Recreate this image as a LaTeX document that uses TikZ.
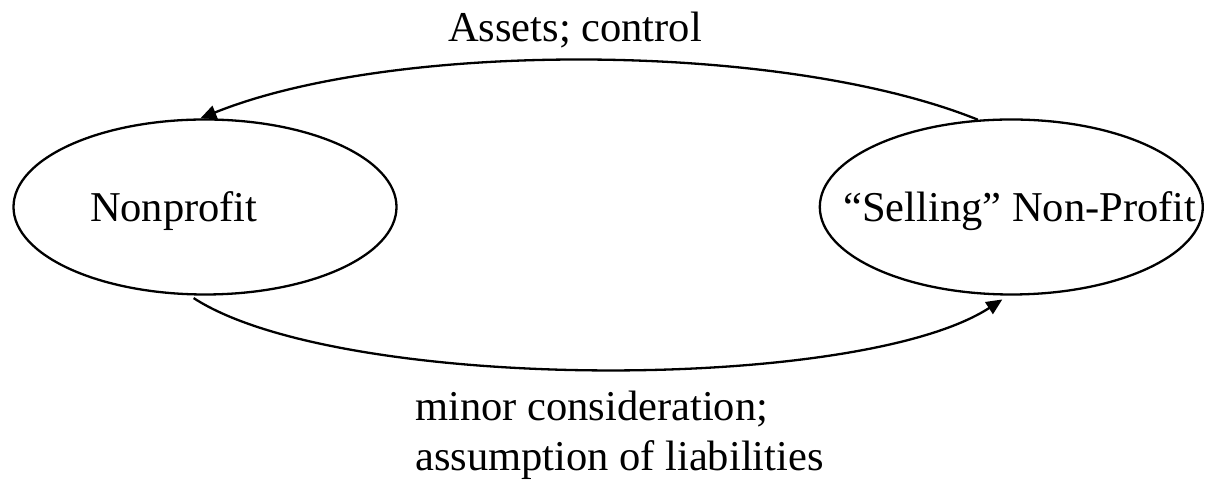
\documentclass[tikz,border=0pt]{standalone}
\usepackage{fontspec}
\setmainfont{Liberation Serif}
\usetikzlibrary{positioning,arrows.meta,shapes.geometric}

\tikzset{
  party/.style={draw, ellipse, line width=2.3pt, minimum width=383pt,
    minimum height=175pt, inner sep=0pt, text height=30pt, text depth=0pt},
  flow/.style={line width=2.3pt, -{Triangle[length=16pt,width=14pt]}},
  note/.style={inner sep=0pt, align=left}
}

\begin{document}
\begin{tikzpicture}[x=1pt, y=1pt, font=\fontsize{42.5}{50}\selectfont]

  \useasboundingbox (0,0) rectangle (1205,481);

  \node (np) [party, text width=230pt, align=left] at (205,274) {Nonprofit};
  \node (sell) [party, inner xsep=-60pt, right=421pt of np]
    {\hspace*{17pt}“Selling” Non-Profit};

  \node (give) [note, anchor=base] at (575,439) {Assets; control};
  \node (get) [note, anchor=north west] at (415,90)
    {minor consideration;\\assumption of liabilities};

  \draw [flow] (sell.111) to [out=158, in=22, looseness=0.69] (np.93);
  \draw [flow, shorten <=5pt, shorten >=7pt]
    (np.260) to [out=-33, in=213, looseness=0.56] (sell.268);

\end{tikzpicture}
\end{document}
